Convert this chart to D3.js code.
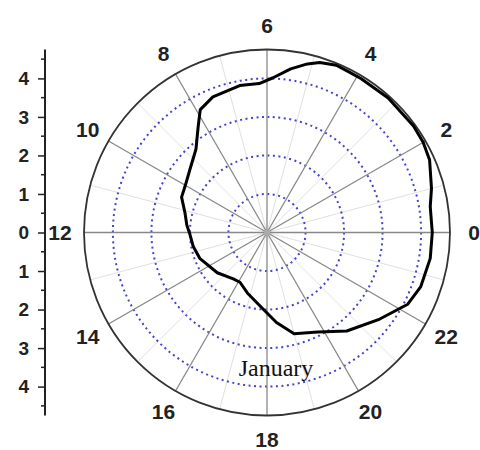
<!DOCTYPE html>
<html><head><meta charset="utf-8">
<script src="https://cdn.jsdelivr.net/npm/d3@7"></script>
<style>body{margin:0;background:#fff}</style>
</head><body>
<svg id="c" width="480" height="450"></svg>
<script>
const hours = [0, 0.6, 1.0, 1.6, 2.0, 2.4, 3.2, 3.9, 4.2, 4.5, 4.85, 5.1, 5.45, 5.85, 6.2, 6.7, 7.45, 7.9, 8.2, 8.7, 9.4, 10.05, 10.5, 11.1, 11.65, 12.1, 12.7, 13.4, 14.6, 15.6, 16.1, 16.8, 17.6, 18.4, 19.0, 19.8, 20.6, 21.5, 22.2, 22.7, 23.4];
const values = [4.29, 4.29, 4.42, 4.62, 4.68, 4.70, 4.70, 4.68, 4.68, 4.70, 4.62, 4.50, 4.29, 4.02, 3.87, 3.88, 3.79, 3.63, 3.28, 2.84, 2.58, 2.44, 2.40, 2.19, 2.09, 2.0, 1.95, 1.87, 1.66, 1.49, 1.47, 1.65, 1.9, 2.35, 2.72, 2.9, 3.29, 3.69, 4.1, 4.23, 4.29];
const hourTicks = [0, 2, 4, 6, 8, 10, 12, 14, 16, 18, 20, 22];
const minorHourTicks = [1, 3, 5, 7, 9, 11, 13, 15, 17, 19, 21, 23];
const ringValues = [1, 2, 3, 4];
const axisTicks = [-4, -3, -2, -1, 0, 1, 2, 3, 4];
const seriesLabel = "January";
const rMax = 4.75;

const svg = d3.select("#c");
const cx = 267, cy = 232.5, R = 183;
const r = d3.scaleLinear().domain([0, rMax]).range([0, R]);
const ang = d3.scaleLinear().domain([0, 24]).range([0, 2 * Math.PI]);
const px = (h, v) => cx + r(v) * Math.cos(ang(h));
const py = (h, v) => cy - r(v) * Math.sin(ang(h));

const g = svg.append("g");
// minor spokes
g.selectAll(".ms").data(minorHourTicks).join("line")
  .attr("x1", cx).attr("y1", cy)
  .attr("x2", d => px(d, rMax)).attr("y2", d => py(d, rMax))
  .attr("stroke", "#e0e0e0").attr("stroke-width", 1);
// rings
g.selectAll(".ring").data(ringValues).join("circle")
  .attr("cx", cx).attr("cy", cy).attr("r", d => r(d))
  .attr("fill", "none").attr("stroke", "#4444d0").attr("stroke-width", 2)
  .attr("stroke-dasharray", "2 3.5");
// major spokes
g.selectAll(".sp").data(hourTicks).join("line")
  .attr("x1", cx).attr("y1", cy)
  .attr("x2", d => px(d, rMax)).attr("y2", d => py(d, rMax))
  .attr("stroke", "#888").attr("stroke-width", 1.3);
g.append("circle").attr("cx", cx).attr("cy", cy).attr("r", 3).attr("fill", "#aaa");
// outer circle
g.append("circle").attr("cx", cx).attr("cy", cy).attr("r", R)
  .attr("fill", "none").attr("stroke", "#333").attr("stroke-width", 1.8);

// hour labels
g.selectAll(".hl").data(hourTicks).join("text")
  .attr("x", d => cx + (R + 24) * Math.cos(ang(d)))
  .attr("y", d => cy - (R + 24) * Math.sin(ang(d)))
  .attr("text-anchor", "middle").attr("dominant-baseline", "central")
  .attr("font-family", "Liberation Sans, Arial, sans-serif")
  .attr("font-weight", "bold").attr("font-size", 21).attr("fill", "#222")
  .text(d => d);

// data curve
const line = d3.lineRadial()
  .angle(d => Math.PI / 2 - ang(d[0]))
  .radius(d => r(d[1]))
  .curve(d3.curveLinearClosed);
g.append("path")
  .attr("transform", `translate(${cx},${cy})`)
  .attr("d", line(hours.map((h, i) => [h, values[i]])))
  .attr("fill", "none").attr("stroke", "#000").attr("stroke-width", 3)
  .attr("stroke-linejoin", "round");

// series label
g.append("text").attr("x", 276).attr("y", 376)
  .attr("text-anchor", "middle")
  .attr("font-family", "Liberation Serif, Times New Roman, serif")
  .attr("font-size", 24).attr("fill", "#111").text(seriesLabel);

// left radial axis
const ay = d3.scaleLinear().domain([-rMax, rMax]).range([cy + R, cy - R]);
const ax = 45;
const axG = svg.append("g").attr("transform", `translate(${ax},0)`);
const axis = d3.axisLeft(ay).tickValues(axisTicks).tickSize(7)
  .tickFormat(d => Math.abs(d));
axG.call(axis);
axG.select(".domain").attr("d", `M0,${ay(rMax)}V${ay(-rMax)}`).attr("stroke", "#222").attr("stroke-width", 2);
axG.selectAll(".tick line").attr("stroke", "#222").attr("stroke-width", 1.5);
axG.selectAll(".tick text").attr("font-family", "Liberation Sans, Arial, sans-serif")
  .attr("font-weight", "bold").attr("font-size", 19).attr("fill", "#222").attr("x", -16);
const minor = d3.range(-4.5, 4.6, 1);
axG.selectAll(".mt").data(minor).join("line")
  .attr("x1", -4).attr("x2", 0).attr("y1", d => ay(d)).attr("y2", d => ay(d))
  .attr("stroke", "#222").attr("stroke-width", 1.5);
</script>
</body></html>
